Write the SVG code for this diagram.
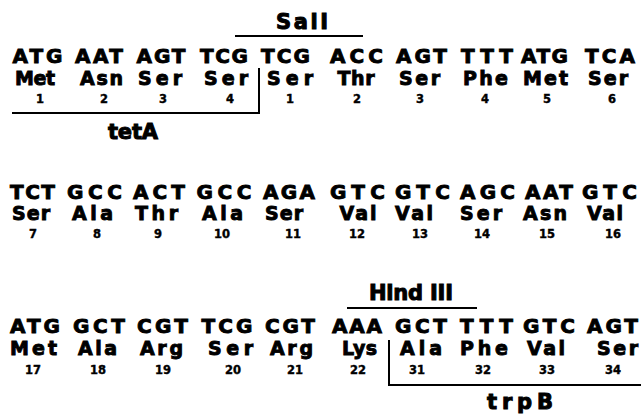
<svg xmlns="http://www.w3.org/2000/svg" width="641" height="415" viewBox="0 0 641 415">
<style>
  text { font-family: "DejaVu Sans", "Liberation Sans", Arial, sans-serif; font-weight: bold; fill: #000; stroke: #000; stroke-width: 0.9; text-anchor: middle; }
  .c { font-size: 20px; }
  .a { font-size: 19px; }
  .n { font-size: 11.5px; stroke-width: 0.4; }
  .lab { font-size: 21px; stroke-width: 1; }
  .ln { fill: none; stroke: #000; stroke-width: 2; }
</style>
<rect width="641" height="415" fill="#fff"/>

<!-- row 1: tetA / SalI junction -->
<g id="row1">
  <g id="r1-1"><text class="c" x="37.5" y="63" textLength="50" lengthAdjust="spacing">ATG</text><text class="a" x="35" y="85" textLength="40" lengthAdjust="spacing">Met</text><text class="n" x="40" y="103">1</text></g>
  <g id="r1-2"><text class="c" x="99" y="63" textLength="48" lengthAdjust="spacing">AAT</text><text class="a" x="101.5" y="85" textLength="43" lengthAdjust="spacing">Asn</text><text class="n" x="104" y="103">2</text></g>
  <g id="r1-3"><text class="c" x="161" y="63" textLength="49" lengthAdjust="spacing">AGT</text><text class="a" x="160" y="85" textLength="44" lengthAdjust="spacing">Ser</text><text class="n" x="163" y="103">3</text></g>
  <g id="r1-4"><text class="c" x="224" y="63" textLength="48" lengthAdjust="spacing">TCG</text><text class="a" x="226" y="85" textLength="44" lengthAdjust="spacing">Ser</text><text class="n" x="230" y="103">4</text></g>
  <g id="r1-5"><text class="c" x="285.5" y="63" textLength="49" lengthAdjust="spacing">TCG</text><text class="a" x="290" y="85" textLength="46" lengthAdjust="spacing">Ser</text><text class="n" x="290" y="103">1</text></g>
  <g id="r1-6"><text class="c" x="356.5" y="63" textLength="53" lengthAdjust="spacing">ACC</text><text class="a" x="356" y="85" textLength="37" lengthAdjust="spacing">Thr</text><text class="n" x="357" y="103">2</text></g>
  <g id="r1-7"><text class="c" x="421.5" y="63" textLength="51" lengthAdjust="spacing">AGT</text><text class="a" x="419.5" y="85" textLength="41" lengthAdjust="spacing">Ser</text><text class="n" x="420" y="103">3</text></g>
  <g id="r1-8"><text class="c" x="487" y="63" textLength="52" lengthAdjust="spacing">TTT</text><text class="a" x="485.5" y="85" textLength="45" lengthAdjust="spacing">Phe</text><text class="n" x="485" y="103">4</text></g>
  <g id="r1-9"><text class="c" x="544.5" y="63" textLength="47" lengthAdjust="spacing">ATG</text><text class="a" x="545.5" y="85" textLength="45" lengthAdjust="spacing">Met</text><text class="n" x="547" y="103">5</text></g>
  <g id="r1-10"><text class="c" x="610" y="63" textLength="50" lengthAdjust="spacing">TCA</text><text class="a" x="608" y="85" textLength="40" lengthAdjust="spacing">Ser</text><text class="n" x="612" y="103">6</text></g>
</g>

<!-- row 2 -->
<g id="row2">
  <g id="r2-1"><text class="c" x="32.5" y="199" textLength="45" lengthAdjust="spacing">TCT</text><text class="a" x="31" y="220" textLength="38" lengthAdjust="spacing">Ser</text><text class="n" x="33" y="238">7</text></g>
  <g id="r2-2"><text class="c" x="94.5" y="199" textLength="55" lengthAdjust="spacing">GCC</text><text class="a" x="92.5" y="220" textLength="41" lengthAdjust="spacing">Ala</text><text class="n" x="97" y="238">8</text></g>
  <g id="r2-3"><text class="c" x="159" y="199" textLength="52" lengthAdjust="spacing">ACT</text><text class="a" x="156.5" y="220" textLength="43" lengthAdjust="spacing">Thr</text><text class="n" x="158" y="238">9</text></g>
  <g id="r2-4"><text class="c" x="224" y="199" textLength="55" lengthAdjust="spacing">GCC</text><text class="a" x="222.5" y="220" textLength="41" lengthAdjust="spacing">Ala</text><text class="n" x="222" y="238">10</text></g>
  <g id="r2-5"><text class="c" x="289" y="199" textLength="52" lengthAdjust="spacing">AGA</text><text class="a" x="284" y="220" textLength="38" lengthAdjust="spacing">Ser</text><text class="n" x="293" y="238">11</text></g>
  <g id="r2-6"><text class="c" x="357.5" y="199" textLength="55" lengthAdjust="spacing">GTC</text><text class="a" x="358" y="220" textLength="37" lengthAdjust="spacing">Val</text><text class="n" x="357" y="238">12</text></g>
  <g id="r2-7"><text class="c" x="422.5" y="199" textLength="55" lengthAdjust="spacing">GTC</text><text class="a" x="414" y="220" textLength="38" lengthAdjust="spacing">Val</text><text class="n" x="420" y="238">13</text></g>
  <g id="r2-8"><text class="c" x="487.5" y="199" textLength="55" lengthAdjust="spacing">AGC</text><text class="a" x="481" y="220" textLength="42" lengthAdjust="spacing">Ser</text><text class="n" x="482" y="238">14</text></g>
  <g id="r2-9"><text class="c" x="549" y="199" textLength="48" lengthAdjust="spacing">AAT</text><text class="a" x="545" y="220" textLength="44" lengthAdjust="spacing">Asn</text><text class="n" x="547" y="238">15</text></g>
  <g id="r2-10"><text class="c" x="609.5" y="199" textLength="55" lengthAdjust="spacing">GTC</text><text class="a" x="605" y="220" textLength="36" lengthAdjust="spacing">Val</text><text class="n" x="613" y="238">16</text></g>
</g>

<!-- row 3: HindIII / trpB junction -->
<g id="row3">
  <g id="r3-1"><text class="c" x="35" y="333" textLength="50" lengthAdjust="spacing">ATG</text><text class="a" x="33.5" y="355" textLength="47" lengthAdjust="spacing">Met</text><text class="n" x="33" y="374">17</text></g>
  <g id="r3-2"><text class="c" x="99" y="333" textLength="52" lengthAdjust="spacing">GCT</text><text class="a" x="97.5" y="355" textLength="39" lengthAdjust="spacing">Ala</text><text class="n" x="98" y="374">18</text></g>
  <g id="r3-3"><text class="c" x="162.5" y="333" textLength="51" lengthAdjust="spacing">CGT</text><text class="a" x="161.5" y="355" textLength="43" lengthAdjust="spacing">Arg</text><text class="n" x="163" y="374">19</text></g>
  <g id="r3-4"><text class="c" x="227" y="333" textLength="51" lengthAdjust="spacing">TCG</text><text class="a" x="230.5" y="355" textLength="45" lengthAdjust="spacing">Ser</text><text class="n" x="233" y="374">20</text></g>
  <g id="r3-5"><text class="c" x="290" y="333" textLength="50" lengthAdjust="spacing">CGT</text><text class="a" x="291.5" y="355" textLength="43" lengthAdjust="spacing">Arg</text><text class="n" x="295" y="374">21</text></g>
  <g id="r3-6"><text class="c" x="357" y="333" textLength="50" lengthAdjust="spacing">AAA</text><text class="a" x="359.5" y="355" textLength="35" lengthAdjust="spacing">Lys</text><text class="n" x="358" y="374">22</text></g>
  <g id="r3-7"><text class="c" x="421" y="333" textLength="52" lengthAdjust="spacing">GCT</text><text class="a" x="421" y="355" textLength="42" lengthAdjust="spacing">Ala</text><text class="n" x="417" y="374">31</text></g>
  <g id="r3-8"><text class="c" x="486.5" y="333" textLength="53" lengthAdjust="spacing">TTT</text><text class="a" x="484" y="355" textLength="48" lengthAdjust="spacing">Phe</text><text class="n" x="483" y="374">32</text></g>
  <g id="r3-9"><text class="c" x="549" y="333" textLength="52" lengthAdjust="spacing">GTC</text><text class="a" x="546" y="355" textLength="38" lengthAdjust="spacing">Val</text><text class="n" x="547" y="374">33</text></g>
  <g id="r3-10"><text class="c" x="612.5" y="333" textLength="51" lengthAdjust="spacing">AGT</text><text class="a" x="617.5" y="355" textLength="41" lengthAdjust="spacing">Ser</text><text class="n" x="613" y="374">34</text></g>
</g>

<!-- site and gene labels -->
<g id="labels">
  <text id="SalI" class="lab" x="302" y="29" textLength="52" lengthAdjust="spacing">SalI</text>
  <text id="tetA" class="lab" x="133" y="139" textLength="50" lengthAdjust="spacing">tetA</text>
  <text id="HindIII" class="lab" x="411" y="300" textLength="84" lengthAdjust="spacing">Hind III</text>
  <text id="trpB" class="lab" x="520" y="409" textLength="66" lengthAdjust="spacing">trpB</text>
</g>

<!-- brackets and recognition-site bars -->
<g id="connectors">
  <line class="ln" x1="235" y1="36" x2="363" y2="36"/>
  <polyline class="ln" points="12,113 259,113 259,68"/>
  <line class="ln" x1="347" y1="308" x2="477" y2="308"/>
  <polyline class="ln" points="389,340 389,385 641,385"/>
</g>
</svg>
